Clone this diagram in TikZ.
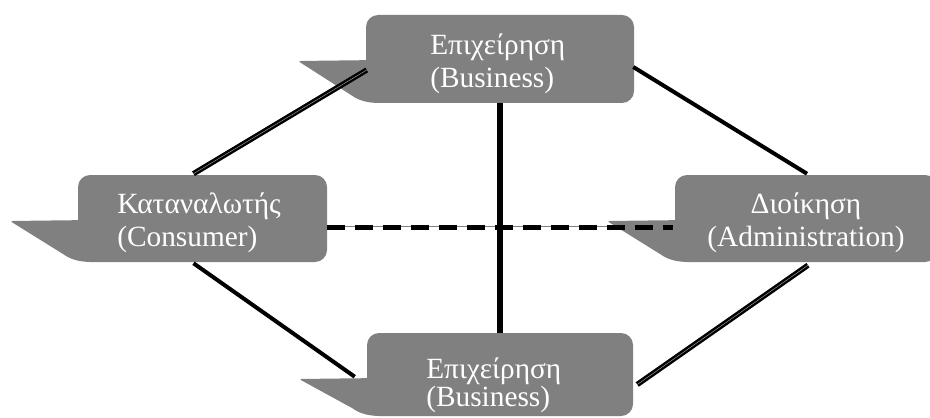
\documentclass[tikz,border=0pt]{standalone}
\usepackage{fontspec}
\setmainfont{Liberation Serif}
\usetikzlibrary{calc}

\definecolor{callgray}{HTML}{808080}

% tail of a callout: left, top and bottom of its box
\newcommand{\calltail}[3]{%
  \fill[callgray] (#1+14,#2+45) [rounded corners=2pt] -- (#1-68,#2+46) [sharp corners] -- (#1-15,#3-8)
    .. controls (#1-8,#3-3) and (#1,#3) .. (#1+14,#3) -- cycle;}

\tikzset{
  callbox/.style={fill=callgray, rounded corners=9pt, inner sep=0pt},
  lbl/.style={text=white, inner sep=0pt, font=\fontsize{22pt}{24.75pt}\selectfont},
  grayback/.style={preaction={draw=callgray, transform canvas={shift={(-1.3pt,1.3pt)}}}},
  dblline/.style={draw=black, line width=4pt, grayback, postaction={draw=gray!60, line width=0.3pt}},
  thinline/.style={draw=black, line width=3pt},
  vline/.style={draw=black, line width=4.2pt, grayback},
  dashline/.style={draw=black, line width=3.8pt, dash pattern=on 13.5pt off 7.5pt, grayback}
}

\begin{document}
\begin{tikzpicture}[x=0.75pt,y=0.75pt,yscale=-1,xscale=1]
        \useasboundingbox (0,0) rectangle (930,417);

        %Shape: Callouts
        \node[callbox, minimum width=201pt, minimum height=66pt] (btop) at (500,59) {};
        \calltail{366}{15}{103}
        \node[callbox, minimum width=186.75pt, minimum height=65.25pt] (cons) at (202.5,218.5) {};
        \calltail{78}{175}{262}
        \node[callbox, minimum width=196.5pt, minimum height=65.25pt] (admin) at (806,218.5) {};
        \calltail{675}{175}{262}
        \node[callbox, minimum width=199.5pt, minimum height=62.25pt] (bbot) at (500,374.5) {};
        \calltail{367}{333}{416}

        %Straight Lines
        \draw[dblline] ($(cons.north)+(-9,-1)$) -- ($(btop.west)+(1,11)$);
        \draw[thinline] ($(cons.south)+(-9,1)$) -- ($(bbot.north west)+(-12,44)$);
        \draw[thinline] ($(btop.east)+(-1,8)$) -- ($(admin.north)+(1,-1)$);
        \draw[dblline] ($(admin.south)+(2,3)$) -- ($(bbot.east)+(4,10)$);
        \draw[vline] (btop.south) -- (bbot.north);
        \draw[dashline] ($(cons.east)+(0,9)$) -- ($(admin.west)+(-2,9)$);

        %Text
        \node[lbl, align=left, anchor=west] (btop-t) at (430,64) {Επιχείρηση\\(Business)};
        \node[lbl, align=left, anchor=west] (cons-t) at (117,223) {Καταναλωτής\\(Consumer)};
        \node[lbl, align=center] (admin-t) at (806,223) {Διοίκηση\\(Administration)};
        \node[lbl, align=left, anchor=west, font=\fontsize{22pt}{19.5pt}\selectfont] (bbot-t) at (426,385) {Επιχείρηση\\(Business)};
    \end{tikzpicture}
\end{document}
